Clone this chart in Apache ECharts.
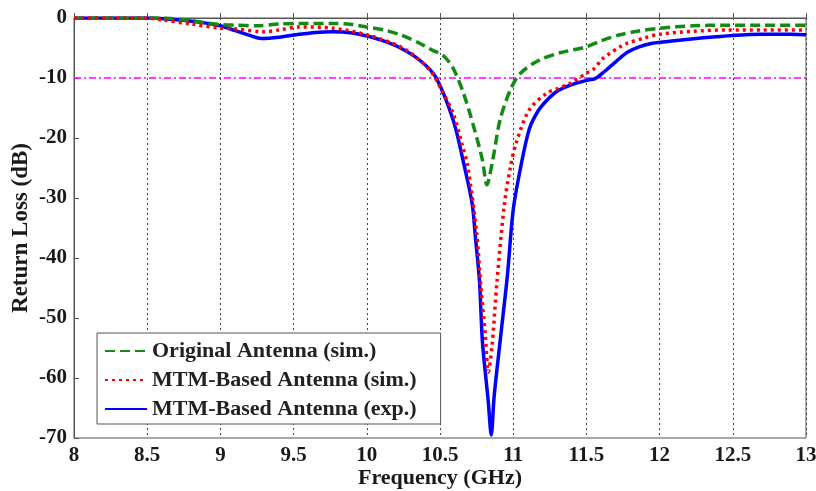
<!DOCTYPE html>
<html>
<head>
<meta charset="utf-8">
<script src="https://cdn.jsdelivr.net/npm/echarts@6/dist/echarts.min.js"></script>
<style>html,body{margin:0;padding:0;background:#fff}#c{width:816px;height:491px}</style>
</head>
<body>
<div id="c"></div>
<script>
// ---- data ----
var xTicks = [8, 8.5, 9, 9.5, 10, 10.5, 11, 11.5, 12, 12.5, 13];
var yTicks = [0, -10, -20, -30, -40, -50, -60, -70];
var threshold = -10;

var freqOrig = [8.0, 8.6, 8.75, 8.9, 9.0, 9.1, 9.25, 9.4, 9.54, 9.77, 9.9, 10.0, 10.12, 10.23, 10.36, 10.45, 10.52, 10.59, 10.66, 10.73, 10.79, 10.82, 10.86, 10.91, 10.98, 11.05, 11.18, 11.32, 11.5, 11.6, 11.73, 11.85, 12.0, 12.23, 12.46, 12.7, 13.0];
var rlOrig   = [0, 0, -0.3, -0.8, -1.1, -1.2, -1.3, -1.0, -0.9, -0.9, -1.1, -1.5, -2.0, -2.8, -4.2, -5.4, -6.2, -8.4, -12.5, -18.1, -23.7, -27.8, -23.7, -17, -12, -9.2, -7.0, -5.8, -4.8, -3.8, -2.8, -2.2, -1.7, -1.3, -1.2, -1.2, -1.2];

var freqMtmSim = [8.0, 8.5, 8.6, 8.8, 9.0, 9.1, 9.29, 9.4, 9.54, 9.77, 10.0, 10.23, 10.36, 10.45, 10.5, 10.59, 10.65, 10.69, 10.75, 10.78, 10.81, 10.83, 10.855, 10.89, 10.94, 10.98, 11.02, 11.11, 11.23, 11.3, 11.39, 11.5, 11.55, 11.61, 11.66, 11.73, 11.78, 11.9, 12.0, 12.23, 12.46, 12.7, 13.0];
var rlMtmSim   = [0, 0, -0.3, -1.0, -1.7, -1.8, -2.3, -2.0, -1.5, -1.7, -2.8, -4.8, -7.0, -9.3, -11.5, -15.9, -21, -24.8, -35.8, -45, -53, -59, -54.8, -43.7, -31, -25, -20.8, -15.3, -12.5, -11.8, -10.9, -9.2, -8.5, -6.8, -5.9, -4.8, -4.2, -3.3, -2.7, -2.2, -2.0, -2.0, -2.0];

var freqMtmExp = [8.0, 8.5, 8.7, 8.86, 9.0, 9.1, 9.2, 9.28, 9.4, 9.54, 9.65, 9.77, 9.9, 10.0, 10.1, 10.23, 10.36, 10.47, 10.59, 10.66, 10.72, 10.74, 10.77, 10.79, 10.83, 10.85, 10.87, 10.91, 10.96, 11.0, 11.05, 11.11, 11.17, 11.23, 11.3, 11.4, 11.5, 11.56, 11.62, 11.7, 11.78, 11.86, 11.95, 12.1, 12.3, 12.5, 12.7, 12.9, 13.0];
var rlMtmExp   = [0, 0, -0.3, -0.7, -1.3, -2.1, -2.9, -3.4, -3.2, -2.7, -2.4, -2.3, -2.5, -3.0, -3.7, -5.0, -7.0, -9.8, -17, -24, -31, -36, -44, -54, -64, -69.5, -63, -54, -43, -32, -25, -18.5, -15.5, -13.7, -12.2, -11.1, -10.4, -10.1, -9.0, -7.3, -5.7, -4.8, -4.2, -3.8, -3.3, -2.9, -2.7, -2.7, -2.8];

var names = ['Original Antenna (sim.)', 'MTM-Based Antenna (sim.)', 'MTM-Based Antenna (exp.)'];

function pairs(xs, ys) { return xs.map(function (x, i) { return [x, ys[i]]; }); }

var serif = '"Liberation Serif", "DejaVu Serif", serif';
var chart = echarts.init(document.getElementById('c'));
chart.setOption({
  animation: false,
  backgroundColor: '#fff',
  grid: { left: 74, right: 10, top: 18, bottom: 53, show: true, borderColor: '#555', borderWidth: 1, containLabel: false, outerBoundsMode: 'none' },
  xAxis: {
    type: 'value', min: xTicks[0], max: xTicks[xTicks.length - 1], interval: 0.5,
    name: 'Frequency (GHz)', nameLocation: 'middle', nameGap: 29, nameMoveOverlap: false,
    nameTextStyle: { fontFamily: serif, fontWeight: 'bold', fontSize: 22, color: '#1a1a1a' },
    axisLine: { lineStyle: { color: '#555', width: 1 } },
    axisTick: { inside: true, length: 5, lineStyle: { color: '#555' } },
    axisLabel: { fontFamily: serif, fontWeight: 'bold', fontSize: 21, color: '#1a1a1a', margin: 7 },
    splitLine: { show: true, lineStyle: { color: '#444', width: 1, type: [2, 3] } }
  },
  yAxis: {
    type: 'value', min: yTicks[yTicks.length - 1], max: yTicks[0], interval: 10,
    name: 'Return Loss (dB)', nameLocation: 'middle', nameGap: 41, nameMoveOverlap: false,
    nameTextStyle: { fontFamily: serif, fontWeight: 'bold', fontSize: 23, color: '#1a1a1a' },
    axisLine: { lineStyle: { color: '#555', width: 1 } },
    axisTick: { inside: true, length: 5, lineStyle: { color: '#555' } },
    axisLabel: { fontFamily: serif, fontWeight: 'bold', fontSize: 21, color: '#1a1a1a', margin: 7 },
    splitLine: { show: false }
  },
  legend: {
    orient: 'vertical', left: 97, top: 333,
    backgroundColor: '#fff', borderColor: '#555', borderWidth: 1, borderRadius: 0,
    padding: [7, 24, 4, 7], itemGap: 7, itemWidth: 42, itemHeight: 14,
    itemStyle: { color: 'rgba(0,0,0,0)', borderWidth: 0, opacity: 0 },
    textStyle: { fontFamily: serif, fontWeight: 'bold', fontSize: 22, color: '#222' },
    data: names
  },
  series: [
    {
      name: names[0], type: 'line', data: pairs(freqOrig, rlOrig), smooth: 0.3, symbol: 'none',
      lineStyle: { color: '#138a13', width: 3.5, type: [10, 5] }, itemStyle: { color: '#138a13' }, z: 3
    },
    {
      name: names[1], type: 'line', data: pairs(freqMtmSim, rlMtmSim), smooth: 0.3, symbol: 'none',
      lineStyle: { color: '#ff0000', width: 3.5, type: [3, 4] }, itemStyle: { color: '#ff0000' }, z: 4
    },
    {
      name: names[2], type: 'line', data: pairs(freqMtmExp, rlMtmExp), smooth: 0.3, symbol: 'none',
      lineStyle: { color: '#0000ff', width: 3.5, type: 'solid' }, itemStyle: { color: '#0000ff' }, z: 2
    },
    {
      name: 'threshold', type: 'line', symbol: 'none', silent: true, z: 1,
      data: [[xTicks[0], threshold], [xTicks[xTicks.length - 1], threshold]],
      lineStyle: { color: '#ff00ff', width: 1.3, type: [7, 3, 2, 3] }, itemStyle: { color: '#ff00ff' }
    }
  ]
});
</script>
</body>
</html>
